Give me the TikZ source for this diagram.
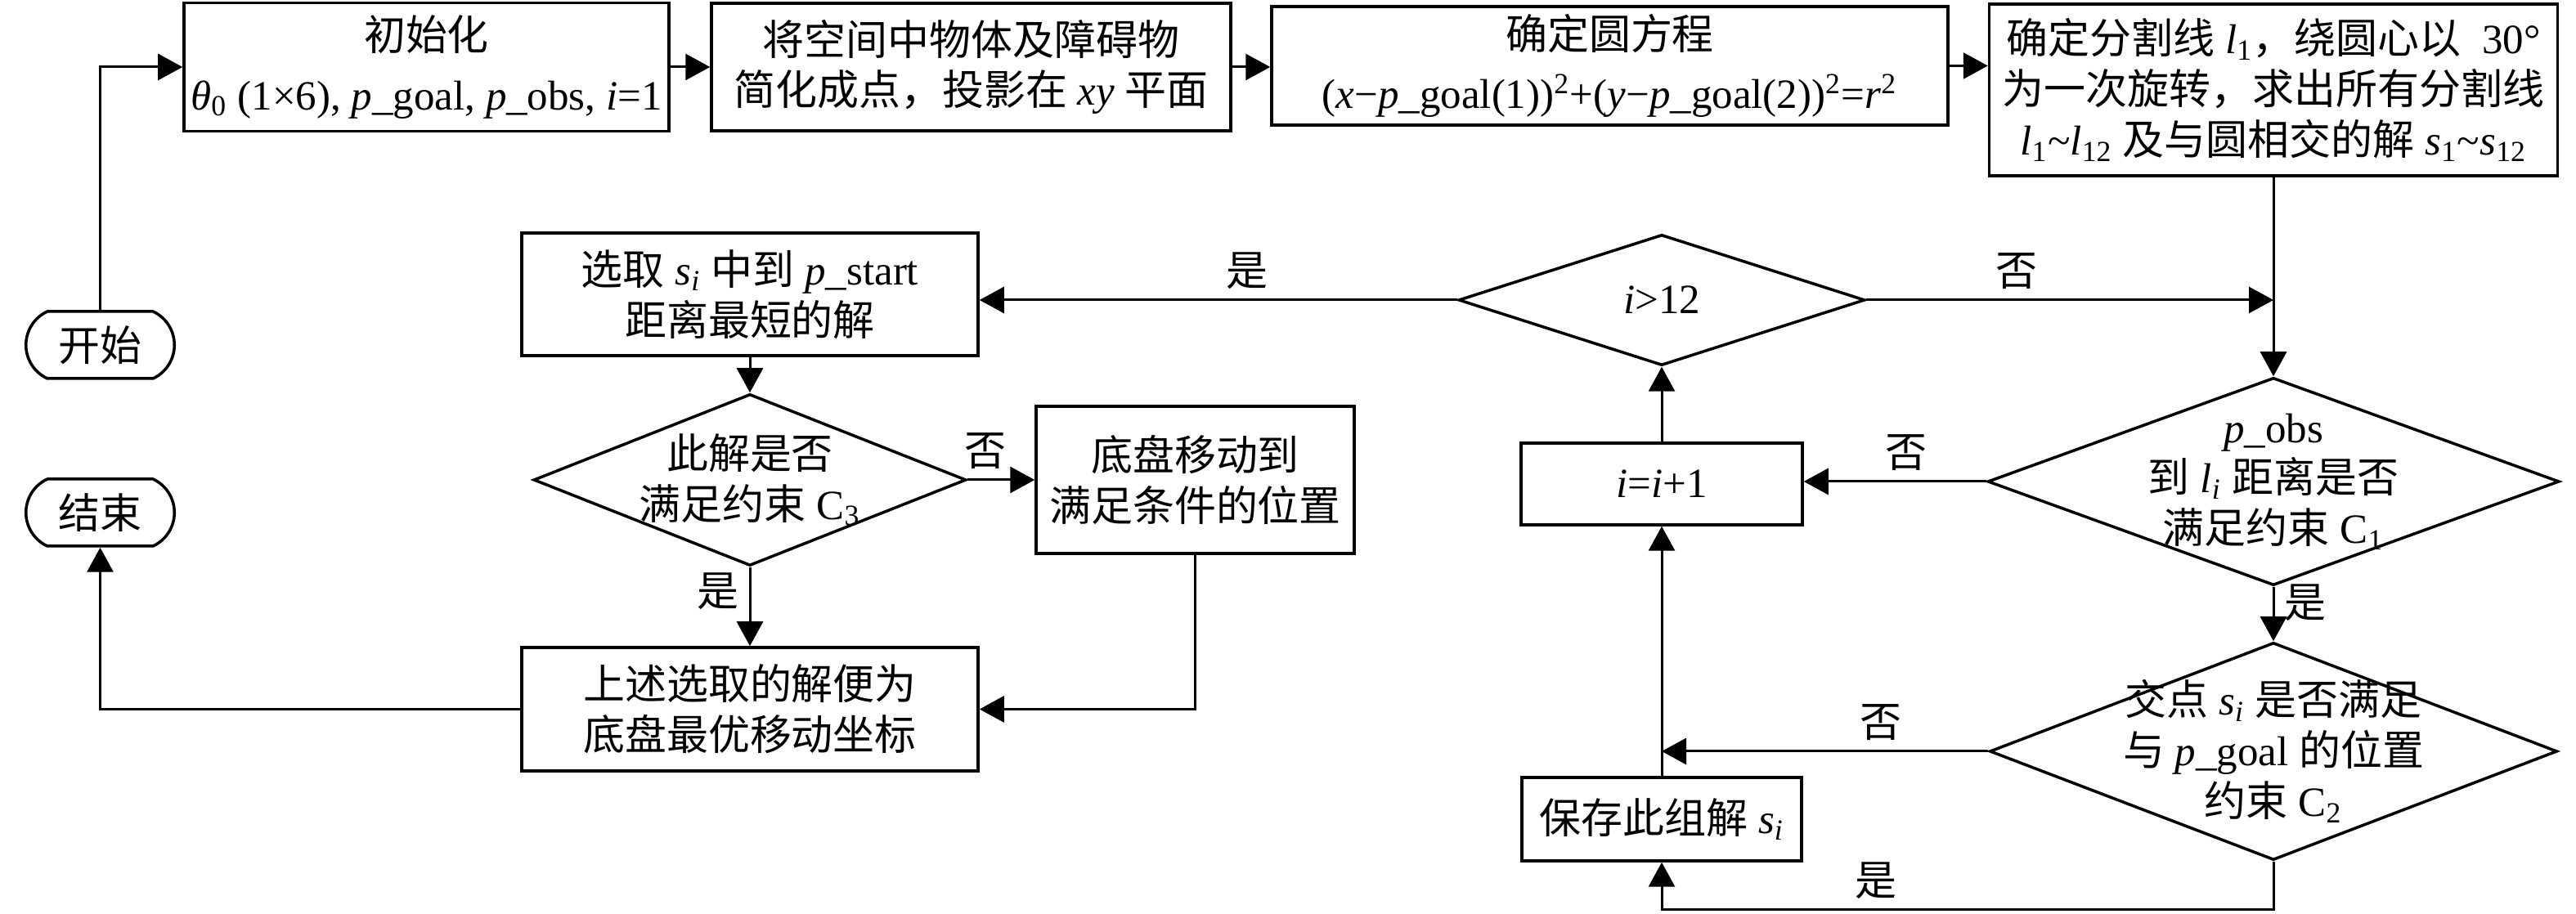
\documentclass[tikz,border=0pt]{standalone}
\usepackage{fontspec}
\setmainfont{Liberation Serif}
\newfontfamily\zhfont{Noto Sans CJK SC}
\newcommand{\zh}[1]{{\zhfont #1}}
\usetikzlibrary{shapes,arrows.meta}

\begin{document}
\begin{tikzpicture}[
    font=\fontsize{14.5}{17.6}\selectfont,
    process/.style={draw,rectangle,line width=1pt,inner sep=2pt,align=center},
    decision/.style={draw,diamond,line width=1pt,inner sep=0pt},
    terminal/.style={draw,rounded rectangle,rounded rectangle arc length=130,line width=1pt,minimum width=2.05cm,minimum height=0.82cm},
    flow/.style={line width=0.85pt,-{Triangle[length=0.3cm,width=0.32cm]}}
]
    \useasboundingbox (0,0) rectangle (31.5,11.18);

    % start / end
    \node[terminal] (start) at (1.225,6.96) {\zh{开始}};
    \node[terminal] (stop) at (1.225,4.91) {\zh{结束}};

    % top row
    \node[process,minimum width=5.93cm,minimum height=1.57cm] (init) at (5.215,10.36)
        {\zh{初始化}\\[3pt] \textit{θ}\textsubscript{0} (1×6), \textit{p}\_goal, \textit{p}\_obs, \textit{i}=1};
    \node[process,minimum width=6.35cm,minimum height=1.56cm] (simp) at (11.875,10.36)
        {\zh{将空间中物体及障碍物}\\ \zh{简化成点，投影在} \textit{xy} \zh{平面}};
    \node[process,minimum width=8.27cm,minimum height=1.45cm] (circ) at (19.685,10.375)
        {\zh{确定圆方程}\\[3pt] (\textit{x}−\textit{p}\_goal(1))\textsuperscript{2}+(\textit{y}−\textit{p}\_goal(2))\textsuperscript{2}=\textit{r}\textsuperscript{2}};
    \node[process,minimum width=6.95cm,minimum height=2.10cm] (split) at (27.80,10.08)
        {\zh{确定分割线} \textit{l}\textsubscript{1}\zh{，绕圆心以}\ \ 30°\\ \zh{为一次旋转，求出所有分割线}\\ \textit{l}\textsubscript{1}\textasciitilde\textit{l}\textsubscript{12} \zh{及与圆相交的解} \textit{s}\textsubscript{1}\textasciitilde\textit{s}\textsubscript{12}};

    % loop over the split lines
    \node[decision,minimum width=4.97cm,minimum height=1.60cm,label={center:\textit{i}>12}] (gt12) at (20.32,7.51) {};
    \node[decision,minimum width=6.99cm,minimum height=2.54cm,
        label={[align=center]center:\textit{p}\_obs\\ \zh{到} \textit{l}\textsubscript{\textit{i}} \zh{距离是否}\\ \zh{满足约束} C\textsubscript{1}}] (c1) at (27.80,5.29) {};
    \node[process,minimum width=3.44cm,minimum height=1.00cm] (inc) at (20.32,5.26) {\textit{i}=\textit{i}+1};
    \node[decision,minimum width=6.94cm,minimum height=2.66cm,
        label={[align=center]center:\zh{交点} \textit{s}\textsubscript{\textit{i}} \zh{是否满足}\\ \zh{与} \textit{p}\_goal \zh{的位置}\\ \zh{约束} C\textsubscript{2}}] (c2) at (27.80,1.99) {};
    \node[process,minimum width=3.42cm,minimum height=1.02cm] (save) at (20.32,1.16) {\zh{保存此组解} \textit{s}\textsubscript{\textit{i}}};
    \coordinate (loop) at (27.80,0.05);

    % choose the solution
    \node[process,minimum width=5.58cm,minimum height=1.50cm] (sel) at (9.17,7.58)
        {\zh{选取} \textit{s}\textsubscript{\textit{i}} \zh{中到} \textit{p}\_start\\ \zh{距离最短的解}};
    \node[decision,minimum width=5.29cm,minimum height=2.10cm,
        label={[align=center]center:\zh{此解是否}\\ \zh{满足约束} C\textsubscript{3}}] (c3) at (9.17,5.31) {};
    \node[process,minimum width=3.89cm,minimum height=1.80cm] (move) at (14.615,5.31)
        {\zh{底盘移动到}\\ \zh{满足条件的位置}};
    \node[process,minimum width=5.58cm,minimum height=1.51cm] (best) at (9.17,2.505)
        {\zh{上述选取的解便为}\\ \zh{底盘最优移动坐标}};

    % connectors
    \draw[flow] (start.north) |- (init.west);
    \draw[flow] (init.east) -- (init.east -| simp.west);
    \draw[flow] (simp.east) -- (simp.east -| circ.west);
    \draw[flow] (circ.east) -- (circ.east -| split.west);
    \draw[flow] (split.south) -- (c1.north);
    \draw[flow] (gt12.east) -- node[pos=0.37,above] {\zh{否}} (gt12.east -| split.south);
    \draw[flow] (c1.west) -- node[pos=0.44,above] {\zh{否}} (c1.west -| inc.east);
    \draw[flow] (c1.south) -- node[pos=0.3,right] {\zh{是}} (c2.north);
    \draw[flow] (c2.west) -- node[pos=0.33,above] {\zh{否}} (c2.west -| save.north);
    \draw[flow] (c2.south) -- (loop) -| node[pos=0.325,above] {\zh{是}} (save.south);
    \draw[flow] (save.north) -- (inc.south);
    \draw[flow] (inc.north) -- (gt12.south);
    \draw[flow] (gt12.west) -- node[pos=0.44,above] {\zh{是}} (gt12.west -| sel.east);
    \draw[flow] (sel.south) -- (c3.north);
    \draw[flow] (c3.east) -- node[pos=0.26,above] {\zh{否}} (move.west);
    \draw[flow] (c3.south) -- node[pos=0.31,left] {\zh{是}} (best.north);
    \draw[flow] (move.south) |- (best.east);
    \draw[flow] (best.west) -| (stop.south);
\end{tikzpicture}
\end{document}
